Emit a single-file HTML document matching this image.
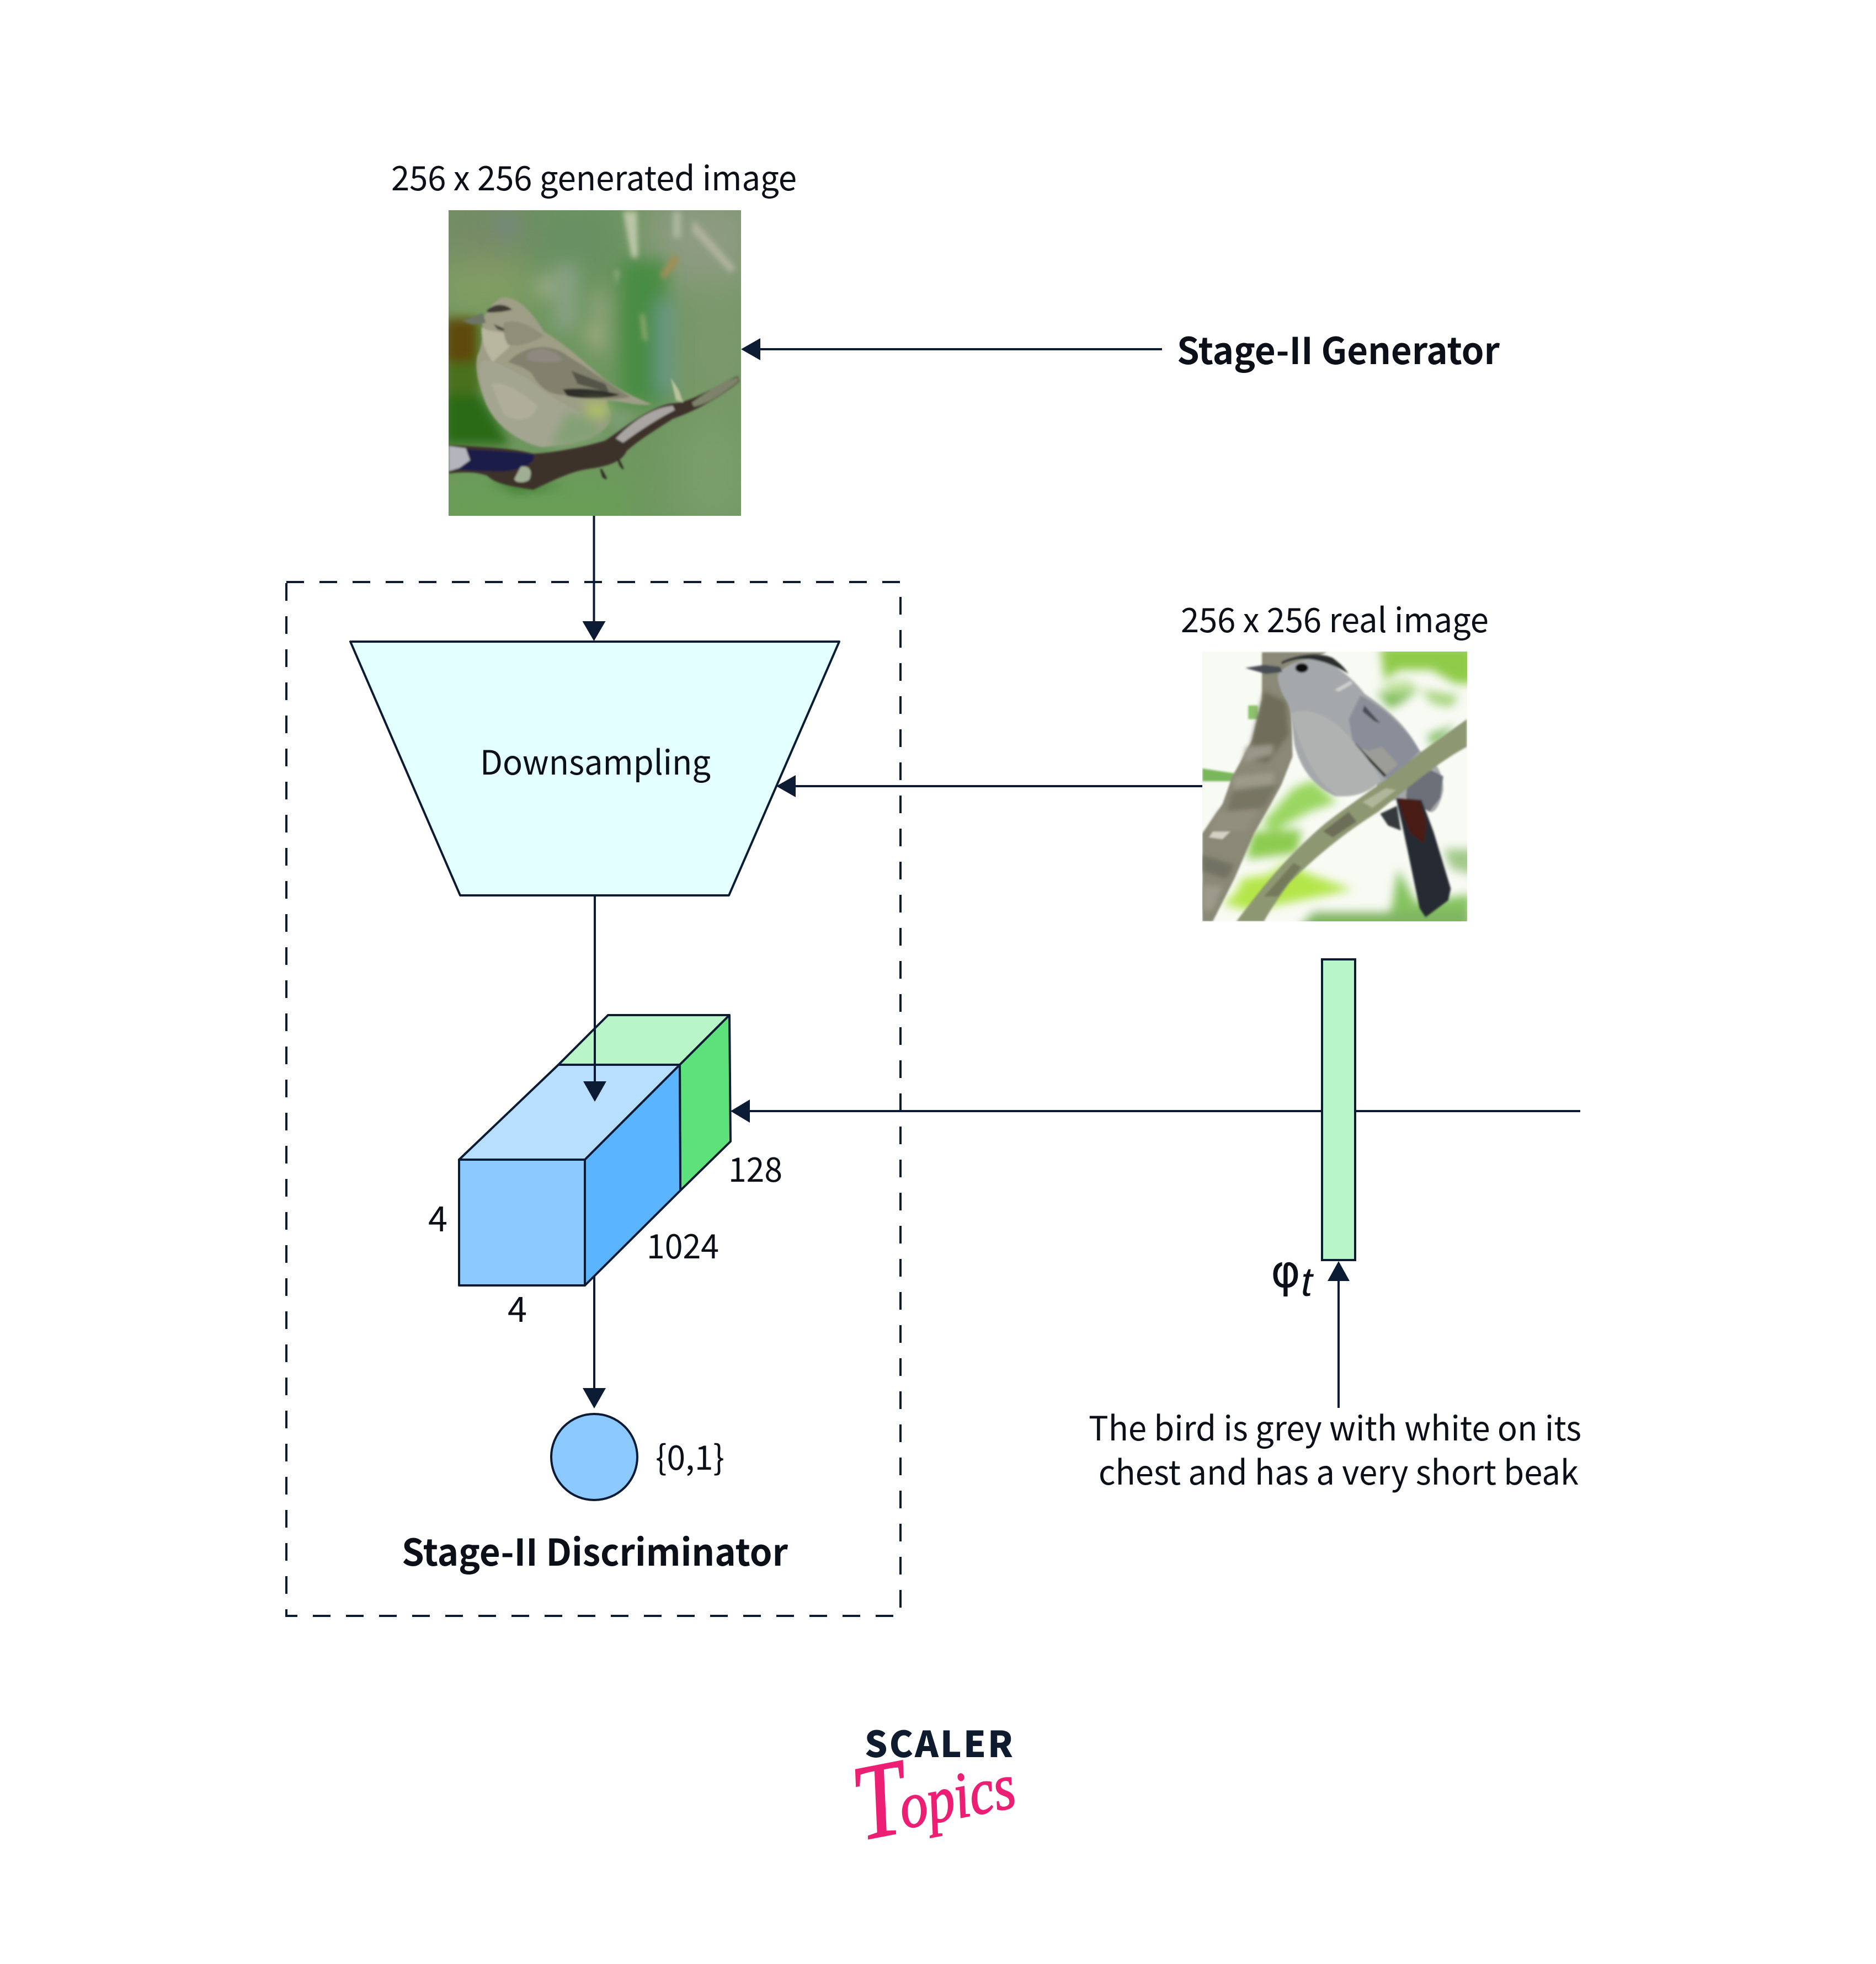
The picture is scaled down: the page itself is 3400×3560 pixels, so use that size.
<!DOCTYPE html>
<html><head><meta charset="utf-8"><style>
html,body{margin:0;padding:0;background:#fff;width:3400px;height:3560px;overflow:hidden}
svg{display:block}
text{font-family:"Noto Sans CJK SC","Liberation Sans",sans-serif;fill:#0b0f18;font-size:61px}
</style></head><body>
<svg width="3400" height="3560" viewBox="0 0 3400 3560" xmlns="http://www.w3.org/2000/svg">
<defs>
<clipPath id="c1"><rect x="813" y="381" width="530" height="554"/></clipPath>
<clipPath id="c2"><rect x="2179" y="1181" width="480" height="489"/></clipPath>
<filter id="b90" x="-60%" y="-60%" width="220%" height="220%"><feGaussianBlur stdDeviation="90"/></filter>
<filter id="b40" x="-60%" y="-60%" width="220%" height="220%"><feGaussianBlur stdDeviation="40"/></filter>
<filter id="b24" x="-50%" y="-50%" width="200%" height="200%"><feGaussianBlur stdDeviation="24"/></filter>
<filter id="b12" x="-50%" y="-50%" width="200%" height="200%"><feGaussianBlur stdDeviation="12"/></filter>
<filter id="b5" x="-50%" y="-50%" width="200%" height="200%"><feGaussianBlur stdDeviation="5"/></filter>
</defs>

<!-- generated bird -->
<g clip-path="url(#c1)"><g transform="translate(760,340) scale(.3827,.3954)">
<rect x="60" y="40" width="1540" height="1540" fill="#6f9660"/>
<g filter="url(#b90)">
<rect x="60" y="40" width="560" height="320" fill="#748a66"/>
<rect x="100" y="350" width="420" height="200" fill="#86a064"/>
<rect x="520" y="60" width="440" height="350" fill="#679062"/>
<rect x="1080" y="40" width="520" height="400" fill="#8e9b82"/>
<rect x="1250" y="480" width="330" height="500" fill="#7b986c"/>
<rect x="1220" y="1050" width="340" height="500" fill="#7a9e6c"/>
<rect x="60" y="1350" width="950" height="220" fill="#68a055"/>
</g>
<g filter="url(#b40)">
<rect x="950" y="330" width="220" height="660" fill="#4a8c44"/>
<rect x="1120" y="520" width="90" height="420" fill="#6c9784"/>
<rect x="640" y="350" width="110" height="300" fill="#88a084"/>
<rect x="820" y="480" width="70" height="280" fill="#90a37c"/>
<rect x="370" y="120" width="90" height="110" fill="#76897f"/>
<rect x="560" y="410" width="70" height="90" fill="#a2ad8b"/>
<rect x="790" y="640" width="60" height="70" fill="#a4ad80"/>
</g>
<g filter="url(#b24)">
<path d="M120 620H290L290 900L260 1100L430 1180H120Z" fill="#49701a"/>
<path d="M120 600H270V800H120Z" fill="#5f4a0c"/>
<path d="M120 950H290L430 1180H120Z" fill="#2c6a18"/>
<path d="M330 1340L700 1370L460 1400Z" fill="#3f7a35"/>
</g>
<g filter="url(#b12)">
<path d="M965 110H1030L1035 320H1005Z" fill="#b9c6a6"/>
<path d="M1300 150L1500 370L1470 390L1290 200Z" fill="#aeb29c"/>
<path d="M1200 110H1240V230H1200Z" fill="#a9b59c"/>
<path d="M1140 400L1210 300L1230 340L1160 420Z" fill="#a08e56"/>
<path d="M925 380L945 380L935 450Z" fill="#9fb28a"/>
<path d="M1045 580L1065 580L1080 700L1060 700Z" fill="#8fab6e"/>
</g>
<!-- bird -->
<g filter="url(#b5)">
<path d="M300 610C320 560 360 505 410 503C480 510 540 580 590 660C680 710 770 790 880 880C950 930 1040 970 1100 993C1040 1005 960 980 890 975C880 1010 930 1040 900 1080C840 1160 720 1180 580 1190C480 1170 370 1100 320 1000C280 910 260 830 275 770C300 720 300 680 300 610Z" fill="#9e9e86"/>
<path d="M205 612L300 575L315 620L250 628Z" fill="#6d7468"/>
<path d="M320 565C345 535 400 525 440 560C400 570 350 575 320 572Z" fill="#3f3e36"/>
<path d="M295 640C340 670 400 650 440 690C440 740 380 760 350 800C320 770 290 700 295 640Z" fill="#b8b69f"/>
<path d="M350 625L450 665L420 665L370 650Z" fill="#4c4b40"/>
<path d="M400 620C470 600 540 640 590 680C520 720 460 730 420 720C400 690 400 660 400 620Z" fill="#8f8e79"/>
<path d="M420 800C500 720 620 710 700 770C800 830 900 900 1000 960C900 980 760 970 680 950C600 950 560 900 530 850C490 820 450 810 420 800Z" fill="#82816d"/>
<path d="M510 760C570 720 640 740 680 790C640 810 560 800 510 790Z" fill="#8e8880"/>
<path d="M680 925C780 915 880 930 950 950C880 970 760 970 700 955Z" fill="#2e2f2a"/>
<path d="M720 840L880 900L900 940L750 900Z" fill="#55554a"/>
<path d="M290 800C330 770 420 830 520 880C600 950 700 1000 760 1030C780 1120 720 1180 580 1190C480 1170 370 1100 320 1000C290 930 280 850 290 800Z" fill="#a3a590"/>
<path d="M340 900C400 880 500 950 560 1000C540 1070 460 1080 400 1040Z" fill="#aeae9a"/>
</g>
<g filter="url(#b24)">
<path d="M780 980L900 990L880 1060L800 1050Z" fill="#a9c066"/>
<path d="M700 1030C800 1050 880 1080 860 1140C760 1180 700 1190 620 1190Z" fill="#84a076"/>
<path d="M900 1010L1030 1040L950 1130L890 1090Z" fill="#7a9c72"/>
</g>
<!-- branch -->
<g filter="url(#b5)">
<path d="M140 1180C300 1190 420 1190 540 1220C640 1215 780 1190 880 1160C960 1110 1080 1010 1190 990C1300 990 1440 880 1510 865L1515 890C1440 950 1320 1020 1200 1060C1120 1110 1020 1170 980 1210C960 1260 880 1280 800 1290C720 1300 640 1340 540 1385C440 1370 360 1360 320 1320C260 1300 200 1305 140 1310Z" fill="#3d322a"/>
<path d="M140 1195C280 1205 420 1205 540 1225C560 1270 450 1310 340 1300C260 1300 200 1290 140 1290Z" fill="#1a1f4a"/>
<path d="M140 1185L220 1195L240 1250L190 1285L140 1300Z" fill="#b4b4bc"/>
<path d="M930 1150C990 1090 1090 1010 1200 1000L1210 1020C1110 1070 1020 1130 965 1170Z" fill="#a8a4a2"/>
<path d="M1290 985C1360 940 1440 880 1510 870L1510 890C1430 950 1370 990 1300 1005Z" fill="#7d826b"/>
<path d="M480 1280C520 1270 540 1300 520 1340C490 1360 450 1350 450 1335Z" fill="#a0ae94"/>
<path d="M1190 870L1230 930L1250 985L1215 975Z" fill="#b8c29c"/>
<path d="M940 1240L965 1290L950 1270ZM860 1290L885 1335L870 1325Z" fill="#2d2a22" stroke="#2d2a22" stroke-width="8"/>
</g>
</g></g>

<!-- real bird -->
<g clip-path="url(#c2)"><g transform="translate(2130,1150) scale(.35714)">
<rect x="100" y="60" width="1420" height="1430" fill="#f8faf4"/>
<g filter="url(#b24)">
<path d="M1040 60H1520V250H1420L1300 180H1140L1060 230Z" fill="#8fcb48"/>
<path d="M1040 250L1180 230L1250 290L1100 300Z" fill="#bfe19a"/>
<path d="M1020 290L1140 300L1230 280L1160 340L1090 380Z" fill="#80bd5c"/>
<path d="M1250 280L1440 310L1400 370L1300 350Z" fill="#a8d47e"/>
<path d="M1280 510L1420 460L1370 530L1300 570Z" fill="#84be68"/>
<path d="M1360 1090H1520V1220L1400 1190Z" fill="#a3c98a"/>
<path d="M1130 1190L1220 1360L1500 1320V1500H1050L1100 1380Z" fill="#84c25e"/>
<path d="M700 1410H1500V1500H620Z" fill="#7fb463"/>
<path d="M340 1240L470 1220L560 1160L690 1220L900 1295L560 1365L380 1400L240 1370L310 1310Z" fill="#b4e648"/>
<path d="M390 1000L640 990L620 1110L360 1140Z" fill="#8ccb50"/>
<path d="M600 780L700 740L820 850L680 900L500 1000L440 960Z" fill="#9ad660"/>
</g>
<g filter="url(#b5)">
<path d="M137 680L300 705L285 745L137 745Z" fill="#7ab75c"/>
<path d="M370 360H420V430H370Z" fill="#8bc26a"/>
<!-- trunk -->
<path d="M440 90H770L640 150L540 190L590 370L595 620L540 760L480 870L400 1010L300 1240L190 1457H137V1010L240 860L290 720L390 540L440 330Z" fill="#8a8876"/>
</g>
<g filter="url(#b12)">
<path d="M450 290L560 340L575 510L470 650L400 640L380 570Z" fill="#6f6d5a"/>
<path d="M360 570L500 560L490 610L340 650Z" fill="#9a9788"/>
<path d="M290 800L520 760L450 880L260 900Z" fill="#767663"/>
<path d="M300 720L500 700L500 760L290 780Z" fill="#9d9a8a"/>
<path d="M220 900L420 890L360 1000L170 1000Z" fill="#938f7f"/>
<path d="M137 1120L300 1170L260 1240L137 1200Z" fill="#727264"/>
<path d="M137 1270L240 1280L190 1400L137 1400Z" fill="#9c9a8a"/>
</g>
<g filter="url(#b5)">
<path d="M190 1000L280 1000L240 1040L170 1030Z" fill="#d4d0c4"/>
<!-- bird -->
<path d="M520 210C540 160 640 120 720 125C800 140 900 220 960 300C1060 370 1160 440 1240 590C1330 640 1360 710 1360 790C1345 860 1320 910 1290 900L1180 830L1060 850L1020 760C960 800 880 830 810 820C720 780 640 700 605 560C590 450 590 370 560 330C530 280 520 240 520 210Z" fill="#a5a8aa"/>
<path d="M940 310C1020 350 1150 440 1240 590L1110 730L1060 730L970 620L900 540L880 430Z" fill="#8a8e98"/>
<path d="M920 570L1060 720L1130 660L1050 570L980 590Z" fill="#9c9d96"/>
<path d="M960 360L1040 450L1010 440L950 390Z" fill="#4b4e56"/>
<path d="M905 560L1060 720L1070 715L915 555Z" fill="#2a2b2a" stroke="#2a2b2a" stroke-width="3"/>
<path d="M590 400C640 600 720 760 830 820C900 830 1000 800 1040 740C1000 650 950 600 900 540C820 440 700 360 590 400Z" fill="#b0b2b2"/>
<path d="M540 140C620 100 740 90 800 120C840 150 860 170 880 200C800 150 700 115 620 125C590 130 560 140 540 150Z" fill="#2c2d2f"/>
<path d="M355 170L450 155L530 165L545 190L460 200Z" fill="#4a4e55"/>
<ellipse cx="642" cy="170" rx="33" ry="24" fill="#0b0b0f"/>
<path d="M810 280L890 235L900 250L830 290Z" fill="#cfcfcd"/>
<path d="M1180 740L1300 690L1360 720L1345 830L1290 900L1170 830Z" fill="#6c6f78"/>
<!-- tail -->
<path d="M1120 830L1250 840L1310 1000L1398 1290L1385 1350L1270 1435L1240 1390L1180 1100L1150 960Z" fill="#262b31"/>
<path d="M1130 830L1240 840L1275 960L1262 1060L1195 1010L1160 930Z" fill="#4a1d14"/>
<path d="M1040 910L1125 870L1145 995L1080 970Z" fill="#343a3c"/>
<!-- branch (in front of bird) -->
<path d="M310 1457C420 1310 560 1130 760 960C900 850 1090 730 1250 595L1480 430V570C1330 650 1180 780 1030 900C840 1020 700 1140 580 1260C530 1330 480 1400 450 1457Z" fill="#8d9772"/>
<path d="M950 850L1000 880L1120 790L1070 780Z" fill="#b0b69a"/>
<path d="M750 1000L880 900L920 950L800 1030Z" fill="#6d6e58"/>
<path d="M450 1330L600 1160L640 1180L520 1330Z" fill="#757a5c"/>
</g>
</g></g>

<!-- dashed box -->
<rect x="519" y="1055" width="1113" height="1874" fill="none" stroke="#0b1b33" stroke-width="4" stroke-dasharray="32 28"/>

<!-- trapezoid -->
<polygon points="635,1163 1521,1163 1321,1623 834,1623" fill="#e3ffff" stroke="#0b1b33" stroke-width="4" stroke-linejoin="round"/>

<!-- connectors -->
<g stroke="#0b1b33" stroke-width="4" fill="none">
<line x1="2106" y1="633" x2="1375" y2="633"/>
<line x1="2179" y1="1425" x2="1440" y2="1425"/>
<line x1="1076.5" y1="935" x2="1076.5" y2="1130"/>
<line x1="2864" y1="2014" x2="1355" y2="2014"/>
<line x1="1077" y1="2310" x2="1077" y2="2525"/>
<line x1="2426" y1="2552" x2="2426" y2="2315"/>
</g>
<g fill="#0b1b33">
<polygon points="1343,633 1378,613 1378,653"/>
<polygon points="1407,1425 1442,1405 1442,1445"/>
<polygon points="1076.5,1162 1055.5,1126 1097.5,1126"/>
<polygon points="1077,2553 1056,2516 1098,2516"/>
<polygon points="1324,2014 1359,1993 1359,2035"/>
<polygon points="2426,2286 2406,2322 2446,2322"/>
</g>

<!-- cube -->
<g stroke="#0b1b33" stroke-width="4" stroke-linejoin="round">
<polygon points="1102,1840 1322,1840 1232,1930 1012,1930" fill="#b8f6c8"/>
<polygon points="1322,1840 1324,2069 1233,2158 1232,1930" fill="#5ce17b"/>
<polygon points="1012,1930 1232,1930 1060,2102 832,2102" fill="#b8dfff"/>
<polygon points="1232,1930 1233,2158 1060,2330 1060,2102" fill="#5bb4fe"/>
<rect x="832" y="2102" width="228" height="228" fill="#8bc9ff"/>
</g>
<line x1="1078" y1="1623" x2="1078" y2="1970" stroke="#0b1b33" stroke-width="4"/>
<polygon points="1078,1997 1057,1960 1099,1960" fill="#0b1b33"/>

<!-- circle -->
<circle cx="1077" cy="2641" r="78" fill="#8bc9ff" stroke="#0b1b33" stroke-width="4"/>

<!-- green bar -->
<rect x="2396" y="1739" width="60" height="545" fill="#b8f6c8" stroke="#0b1b33" stroke-width="4"/>

<!-- labels -->
<text x="709" y="345" textLength="735" lengthAdjust="spacingAndGlyphs">256 x 256 generated image</text>
<text x="2133" y="660" textLength="585" lengthAdjust="spacingAndGlyphs" font-weight="700" style="font-size:67px">Stage-II Generator</text>
<text x="2140" y="1146" textLength="558" lengthAdjust="spacingAndGlyphs">256 x 256 real image</text>
<text x="870" y="1404" textLength="418" lengthAdjust="spacingAndGlyphs">Downsampling</text>
<text x="1320" y="2142" textLength="98" lengthAdjust="spacingAndGlyphs">128</text>
<text x="1172" y="2281" textLength="131" lengthAdjust="spacingAndGlyphs">1024</text>
<text x="776" y="2232" style="font-size:63px">4</text>
<text x="920" y="2396" style="font-size:63px">4</text>
<text x="1188" y="2664" textLength="125" lengthAdjust="spacingAndGlyphs">{0,1}</text>
<text x="728" y="2838" textLength="700" lengthAdjust="spacingAndGlyphs" font-weight="700" style="font-size:67px">Stage-II Discriminator</text>
<text x="2303" y="2333" style="font-size:82px;font-family:'DejaVu Sans',sans-serif">φ</text>
<text x="2358" y="2349" style="font-size:74px;font-style:italic;font-family:'Liberation Sans',sans-serif">t</text>
<text x="1973" y="2611" textLength="893" lengthAdjust="spacingAndGlyphs">The bird is grey with white on its</text>
<text x="1991" y="2691" textLength="870" lengthAdjust="spacingAndGlyphs">chest and has a very short beak</text>

<!-- logo -->
<text x="1567" y="3185" textLength="269" lengthAdjust="spacing" font-weight="900" style="font-size:65px;fill:#0e1a2e">SCALER</text>
<text transform="translate(1560,3336) rotate(-11) scale(.85,1)" style="font-family:'Liberation Serif',serif;font-style:italic;font-size:118px;fill:#ec1f74;stroke:#ec1f74;stroke-width:2"><tspan style="font-size:195px;font-family:'Liberation Serif',serif">T</tspan><tspan dx="-14" dy="-6">opics</tspan></text>
</svg>
</body></html>
